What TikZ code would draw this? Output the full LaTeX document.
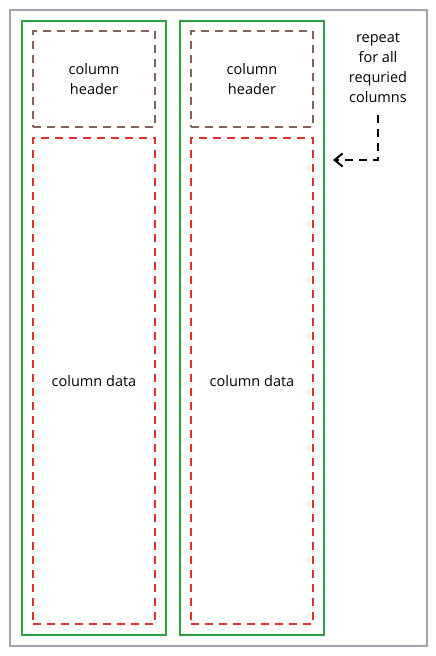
\documentclass[tikz,border=0pt]{standalone}
\usepackage{fontspec}
\setmainfont{Open Sans}
\usetikzlibrary{positioning,arrows.meta}

\begin{document}
\begin{tikzpicture}[x=1pt,y=-1pt,
  every node/.style={inner sep=0pt,outer sep=0pt,font=\fontsize{14.5}{20}\selectfont},
  colbox/.style={draw=colgreen,line width=2pt,minimum width=144pt,minimum height=614pt},
  headbox/.style={draw=colbrown,line width=2pt,dash pattern=on 8pt off 6pt,minimum width=122pt,minimum height=96pt,align=center},
  databox/.style={draw=colred,line width=2pt,dash pattern=on 8pt off 6pt,minimum width=122pt,minimum height=486pt}]
\definecolor{colgreen}{HTML}{2F9E44}
\definecolor{colbrown}{HTML}{846358}
\definecolor{colred}{HTML}{E03131}
\definecolor{colgray}{HTML}{A0A6AD}
\useasboundingbox (0,0) rectangle (436,656);
\node[draw=colgray,line width=1.4pt,minimum width=417pt,minimum height=636pt](frame) at (218.5,328){};

\node[colbox](col1) at (94,328){};
\node[headbox, below=10pt of col1.north](head1){column\\header};
\node[databox, below=11pt of head1](data1){column data};

\node[colbox, right=14pt of col1](col2){};
\node[headbox, below=10pt of col2.north](head2){column\\header};
\node[databox, below=11pt of head2](data2){column data};

\node[align=center](note) at (378,68){repeat\\for all\\requried\\columns};
\coordinate[below=12pt of note](bend);
\coordinate(tip) at (333,160);
\draw[line width=2pt,dash pattern=on 8pt off 6pt,-{Straight Barb[length=8pt,width=13pt]}] (bend) |- (tip);

\end{tikzpicture}
\end{document}
